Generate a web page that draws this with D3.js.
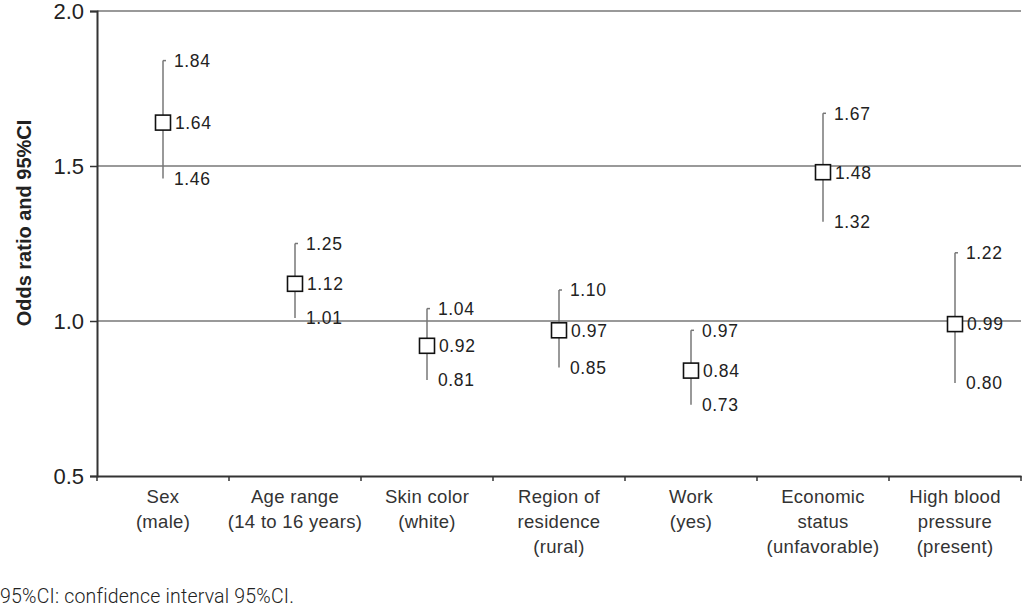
<!DOCTYPE html>
<html><head><meta charset="utf-8">
<script src="https://cdn.jsdelivr.net/npm/d3@7"></script>
<style>
html,body{margin:0;padding:0;background:#fff;}
svg{display:block;font-family:"Liberation Sans",Arial,sans-serif;}
</style></head>
<body>
<svg id="c" width="1024" height="609"></svg>
<script>
const categories = [
  ["Sex","(male)"],
  ["Age range","(14 to 16 years)"],
  ["Skin color","(white)"],
  ["Region of","residence","(rural)"],
  ["Work","(yes)"],
  ["Economic","status","(unfavorable)"],
  ["High blood","pressure","(present)"]
];
const oddsRatio = [1.64, 1.12, 0.92, 0.97, 0.84, 1.48, 0.99];
const lowerCI   = [1.46, 1.01, 0.81, 0.85, 0.73, 1.32, 0.80];
const upperCI   = [1.84, 1.25, 1.04, 1.10, 0.97, 1.67, 1.22];
const yTicks    = [0.5, 1.0, 1.5, 2.0];
const gridValues = [1.0, 1.5, 2.0];

(function(){
const svg = d3.select("#c");
const mLeft = 97, mRight = 1021, mTop = 11, mBottom = 476;

const x = d3.scaleBand().domain(d3.range(categories.length)).range([mLeft, mRight]).padding(0);
const y = d3.scaleLinear().domain([0.5, 2.0]).range([mBottom, mTop]);

// gridlines
svg.append("g").selectAll("line").data(gridValues).join("line")
  .attr("x1", mLeft).attr("x2", mRight)
  .attr("y1", d => y(d)).attr("y2", d => y(d))
  .attr("stroke", "#777").attr("stroke-width", 1.4);

// y axis
const yAxis = svg.append("g").attr("transform", `translate(${mLeft},0)`)
  .call(d3.axisLeft(y).tickValues(yTicks).tickFormat(d3.format(".1f")).tickSize(7).tickPadding(6));
yAxis.select(".domain").attr("stroke", "#333").attr("stroke-width", 2);
yAxis.selectAll(".tick line").attr("stroke", "#333").attr("stroke-width", 1.5);
yAxis.selectAll(".tick text").attr("font-size", 22).attr("fill", "#222")
  .attr("font-family", "'Liberation Sans',Arial,sans-serif");

// x axis
const xAxis = svg.append("g").attr("transform", `translate(0,${mBottom})`)
  .call(d3.axisBottom(x).tickSize(0).tickFormat(""));
xAxis.select(".domain").attr("stroke", "#333").attr("stroke-width", 2);
const bounds = d3.range(categories.length + 1).map(i => i < categories.length ? x(i) : x(categories.length - 1) + x.bandwidth());
svg.append("g").selectAll("line").data(bounds).join("line")
  .attr("x1", d => d).attr("x2", d => d).attr("y1", mBottom).attr("y2", mBottom + 5)
  .attr("stroke", "#333").attr("stroke-width", 1.5);

// category labels
const cl = svg.append("g").selectAll("text").data(categories).join("text")
  .attr("x", (d, i) => x(i) + x.bandwidth() / 2)
  .attr("y", mBottom + 27)
  .attr("text-anchor", "middle").attr("font-size", 18.5).attr("fill", "#333")
  .attr("letter-spacing", 0.3);
cl.selectAll("tspan").data(d => d).join("tspan")
  .attr("x", function() { return d3.select(this.parentNode).attr("x"); })
  .attr("dy", (d, j) => j === 0 ? 0 : 25)
  .text(d => d);

// error bars
const g = svg.append("g");
const cx = i => x(i) + x.bandwidth() / 2;
g.selectAll("line.err").data(oddsRatio).join("line").attr("class", "err")
  .attr("x1", (d, i) => cx(i)).attr("x2", (d, i) => cx(i))
  .attr("y1", (d, i) => y(upperCI[i])).attr("y2", (d, i) => y(lowerCI[i]))
  .attr("stroke", "#777").attr("stroke-width", 1.5);
g.selectAll("line.cap").data(oddsRatio).join("line").attr("class", "cap")
  .attr("x1", (d, i) => cx(i)).attr("x2", (d, i) => cx(i) + 3)
  .attr("y1", (d, i) => y(upperCI[i])).attr("y2", (d, i) => y(upperCI[i]))
  .attr("stroke", "#777").attr("stroke-width", 1.5);
const s = 15;
g.selectAll("rect").data(oddsRatio).join("rect")
  .attr("x", (d, i) => cx(i) - s / 2).attr("y", d => y(d) - s / 2)
  .attr("width", s).attr("height", s)
  .attr("fill", "#fff").attr("stroke", "#111").attr("stroke-width", 1.6);

const lab = (vals, dx) => g.append("g").selectAll("text").data(vals).join("text")
  .attr("x", (d, i) => cx(i) + dx).attr("y", d => y(d))
  .attr("dy", "0.36em").attr("font-size", 17.5).attr("fill", "#222")
  .attr("letter-spacing", 0.6)
  .text(d => d3.format(".2f")(d));
lab(upperCI, 11);
lab(oddsRatio, 12);
lab(lowerCI, 11);

// y title
svg.append("text")
  .attr("transform", `translate(31,223) rotate(-90)`)
  .attr("text-anchor", "middle").attr("font-size", 20).attr("font-weight", "bold")
  .attr("fill", "#222").text("Odds ratio and 95%CI");

// footnote
svg.append("text").attr("x", 0).attr("y", 603)
  .attr("font-family", "Roboto, 'Liberation Sans', sans-serif").attr("font-weight", 300)
  .attr("font-size", 19.5).attr("fill", "#222").attr("letter-spacing", 0.2)
  .text("95%CI: confidence interval 95%CI.");
})();
</script>
</body></html>
